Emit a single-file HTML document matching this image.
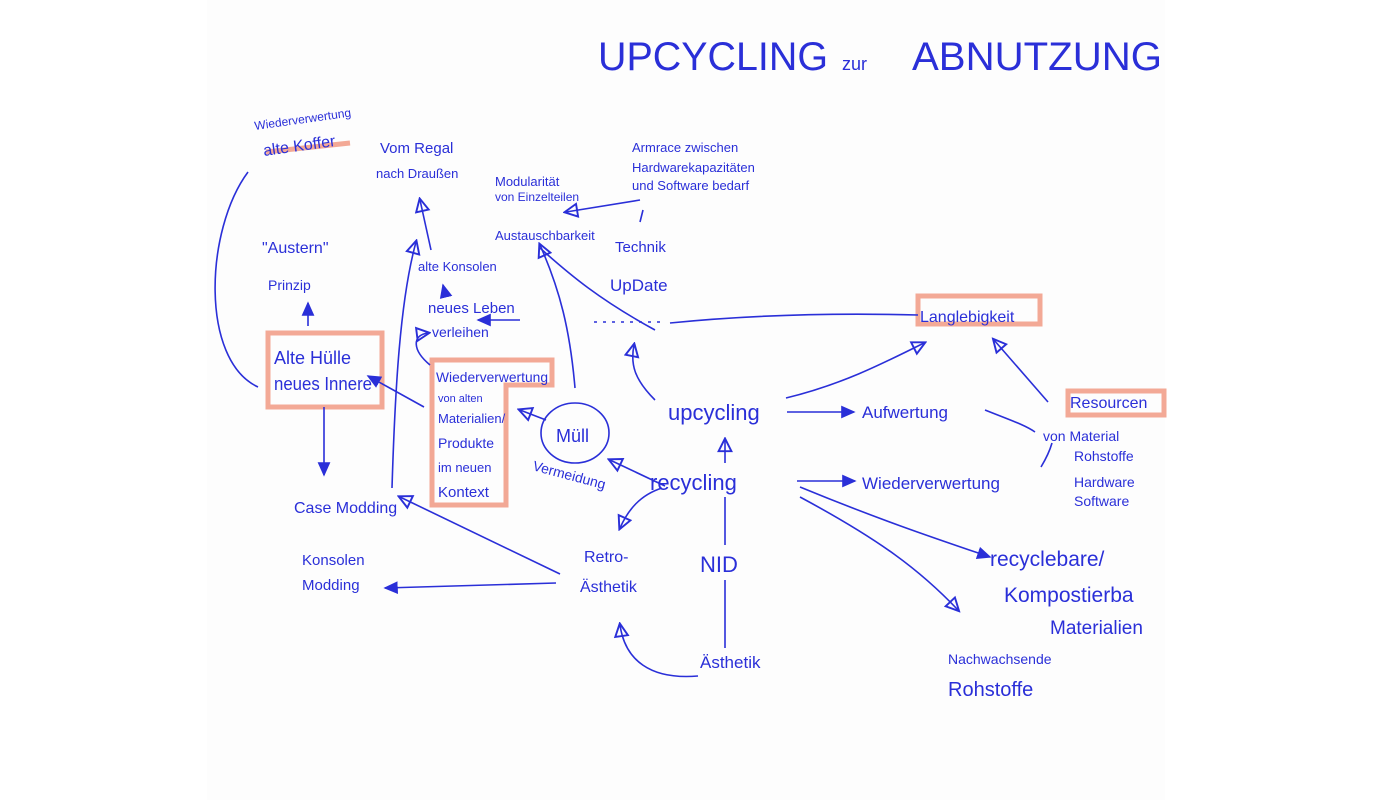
<!DOCTYPE html>
<html><head><meta charset="utf-8"><style>
html,body{margin:0;padding:0;background:#fff;}
svg{display:block}
text{font-family:"Liberation Sans",sans-serif;fill:#2a2fd8;}
</style></head><body>
<svg width="1400" height="800" viewBox="0 0 1400 800">
<rect x="0" y="0" width="1400" height="800" fill="#fff"/>
<rect x="207" y="0" width="958" height="800" fill="#fdfdfd"/>
<defs>
<marker id="a" markerWidth="10" markerHeight="10" refX="8" refY="5" orient="auto"><path d="M0,1 L9,5 L0,9 Z" fill="#2a2fd8"/></marker>
<marker id="o" markerWidth="10" markerHeight="10" refX="8" refY="5" orient="auto"><path d="M1,1 L9,5 L1,9 Z" fill="none" stroke="#2a2fd8" stroke-width="1.2"/></marker>
</defs>
<g fill="none" stroke="#f19a84" stroke-width="5" opacity="0.85">
<rect x="268" y="333" width="114" height="74"/>
<path d="M432 370 V360 H552 V385 H506 V505 H432 Z"/>
<rect x="918" y="296" width="122" height="28"/>
<rect x="1068" y="391" width="96" height="24"/>
<path d="M266 152 L350 143"/>
</g>
<g fill="none" stroke="#2a2fd8" stroke-width="1.6">
<path d="M248 172 C205 230 200 360 258 387"/>
<path d="M308 326 V303" marker-end="url(#a)"/>
<path d="M324 407 V475" marker-end="url(#a)"/>
<path d="M431 250 L420 200" marker-end="url(#o)"/>
<path d="M392 488 C395 390 400 300 416 242" marker-end="url(#o)"/>
<path d="M446 297 L443 285" marker-end="url(#a)"/>
<path d="M430 365 C412 350 412 335 428 333" marker-end="url(#o)"/>
<path d="M575 388 C570 330 560 290 540 245" marker-end="url(#o)"/>
<path d="M424 407 L368 376" marker-end="url(#a)"/>
<ellipse cx="575" cy="433" rx="34" ry="30"/>
<path d="M546 420 L520 410" marker-end="url(#o)"/>
<path d="M665 486 L610 460" marker-end="url(#o)"/>
<path d="M560 574 L400 497" marker-end="url(#o)"/>
<path d="M556 583 L385 588" marker-end="url(#a)"/>
<path d="M662 488 C640 495 628 510 620 528" marker-end="url(#o)"/>
<path d="M655 330 C600 300 570 275 540 248"/>
<path d="M640 200 L566 212" marker-end="url(#o)"/>
<path d="M643 210 L640 222"/>
<path d="M918 315 C800 312 720 318 670 323"/>
<path d="M660 322 L590 322" stroke-dasharray="3 6"/>
<path d="M520 320 L478 320" marker-end="url(#a)"/>
<path d="M655 400 C635 380 630 365 634 345" marker-end="url(#o)"/>
<path d="M786 398 C840 385 880 365 924 343" marker-end="url(#o)"/>
<path d="M1048 402 L994 340" marker-end="url(#o)"/>
<path d="M787 412 L854 412" marker-end="url(#a)"/>
<path d="M985 410 C1010 420 1025 425 1035 432"/>
<path d="M797 481 L855 481" marker-end="url(#a)"/>
<path d="M1041 467 C1047 457 1050 450 1052 443"/>
<path d="M725 463 V440" marker-end="url(#o)"/>
<path d="M725 545 V497"/>
<path d="M725 648 V580"/>
<path d="M698 676 C650 680 625 660 620 625" marker-end="url(#o)"/>
<path d="M800 487 C880 520 940 540 990 557" marker-end="url(#a)"/>
<path d="M800 497 C880 540 920 570 958 610" marker-end="url(#o)"/>
</g>
<text x="598" y="70" font-size="40" textLength="230" lengthAdjust="spacingAndGlyphs">UPCYCLING</text>
<text x="842" y="70" font-size="18">zur</text>
<text x="912" y="70" font-size="40" textLength="250" lengthAdjust="spacingAndGlyphs">ABNUTZUNG</text>
<text x="255" y="130" font-size="12" transform="rotate(-8 255 130)">Wiederverwertung</text>
<text x="264" y="156" font-size="16" transform="rotate(-8 264 156)">alte Koffer</text>
<text x="380" y="153" font-size="15">Vom Regal</text>
<text x="376" y="178" font-size="13">nach Draußen</text>
<text x="495" y="186" font-size="13">Modularität</text>
<text x="495" y="201" font-size="12">von Einzelteilen</text>
<text x="495" y="240" font-size="13">Austauschbarkeit</text>
<text x="632" y="152" font-size="13">Armrace zwischen</text>
<text x="632" y="172" font-size="13">Hardwarekapazitäten</text>
<text x="632" y="190" font-size="13">und Software bedarf</text>
<text x="615" y="252" font-size="15">Technik</text>
<text x="610" y="291" font-size="17">UpDate</text>
<text x="262" y="253" font-size="16">"Austern"</text>
<text x="268" y="290" font-size="14">Prinzip</text>
<text x="418" y="271" font-size="13">alte Konsolen</text>
<text x="428" y="313" font-size="15">neues Leben</text>
<text x="432" y="337" font-size="14">verleihen</text>
<text x="274" y="364" font-size="18">Alte Hülle</text>
<text x="274" y="390" font-size="18" textLength="98" lengthAdjust="spacingAndGlyphs">neues Innere</text>
<text x="436" y="382" font-size="14" textLength="112" lengthAdjust="spacingAndGlyphs">Wiederverwertung</text>
<text x="438" y="402" font-size="11">von alten</text>
<text x="438" y="423" font-size="13">Materialien/</text>
<text x="438" y="448" font-size="14">Produkte</text>
<text x="438" y="472" font-size="13">im neuen</text>
<text x="438" y="497" font-size="15">Kontext</text>
<text x="556" y="442" font-size="18">Müll</text>
<text x="532" y="470" font-size="14" transform="rotate(15 532 470)">Vermeidung</text>
<text x="920" y="322" font-size="16">Langlebigkeit</text>
<text x="1070" y="408" font-size="16">Resourcen</text>
<text x="1043" y="441" font-size="14">von Material</text>
<text x="1074" y="461" font-size="14">Rohstoffe</text>
<text x="1074" y="487" font-size="14">Hardware</text>
<text x="1074" y="506" font-size="14">Software</text>
<text x="668" y="420" font-size="22">upcycling</text>
<text x="862" y="418" font-size="17">Aufwertung</text>
<text x="650" y="490" font-size="22">recycling</text>
<text x="862" y="489" font-size="17">Wiederverwertung</text>
<text x="294" y="513" font-size="16">Case Modding</text>
<text x="302" y="565" font-size="15">Konsolen</text>
<text x="302" y="590" font-size="15">Modding</text>
<text x="584" y="562" font-size="16">Retro-</text>
<text x="580" y="592" font-size="16">Ästhetik</text>
<text x="700" y="572" font-size="22">NID</text>
<text x="700" y="668" font-size="17">Ästhetik</text>
<text x="990" y="566" font-size="21">recyclebare/</text>
<text x="1004" y="602" font-size="21">Kompostierba</text>
<text x="1050" y="634" font-size="19">Materialien</text>
<text x="948" y="664" font-size="14">Nachwachsende</text>
<text x="948" y="696" font-size="20">Rohstoffe</text>
</svg>
</body></html>
